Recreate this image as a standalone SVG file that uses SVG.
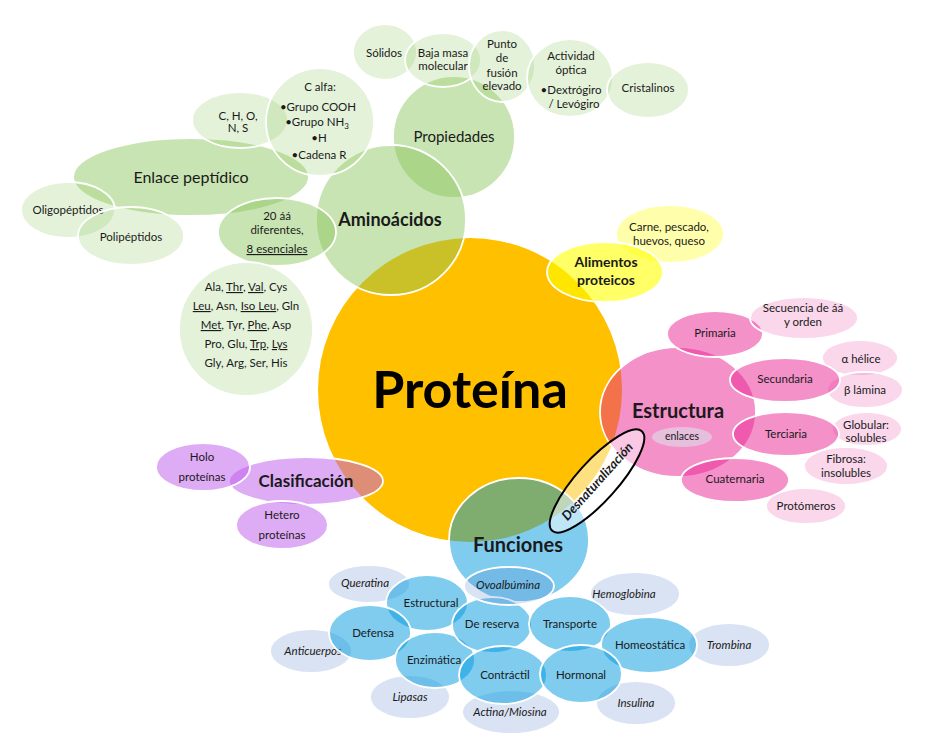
<svg xmlns="http://www.w3.org/2000/svg" width="928" height="740" viewBox="0 0 928 740">
<style>
ellipse,circle{stroke:#fff;stroke-width:1.8}
.o{fill:#FFC000;stroke:none}
.g1{fill:#87C457;fill-opacity:.45}
.g2{fill:#87C457;fill-opacity:.22}
.y1{fill:#FFFF00;fill-opacity:.6}
.y2{fill:#FFFF00;fill-opacity:.33}
.p1{fill:#E92393;fill-opacity:.5}
.p2{fill:#E92393;fill-opacity:.18}
.v1{fill:#BE5AEB;fill-opacity:.5}
.b1{fill:#0099E0;fill-opacity:.5}
.b2{fill:#4472C4;fill-opacity:.2}
.en{fill:#E6BFDC;stroke:none}
.dn{fill:#fff;fill-opacity:.5;stroke:#000;stroke-width:2}
text{font-family:Lato,"Liberation Sans",sans-serif;fill:#1a1a1a;text-anchor:middle;font-size:11.5px}
.m{font-size:15px}
.b{font-weight:bold}
.i{font-style:italic}
.u{text-decoration:underline}
</style>
<g id="proteina"><circle class="o" cx="470" cy="390" r="152"/><text x="470" y="408" class="b" style="font-size:52px;fill:#000">Proteína</text></g>

<g id="propiedades"><circle class="g1" cx="454" cy="137" r="61"/><text x="454" y="142" class="m">Propiedades</text></g>
<g id="aminoacidos"><circle class="g1" cx="391" cy="220" r="75"/><text x="390" y="226" class="b" style="font-size:18px">Aminoácidos</text></g>
<g id="enlace"><ellipse class="g1" cx="191" cy="177" rx="118" ry="39"/><text x="191" y="183" style="font-size:16px">Enlace peptídico</text></g>
<g id="choNS"><ellipse class="g2" cx="240" cy="120" rx="48" ry="28"/><text x="238" y="120">C, H, O,</text><text x="238" y="132">N, S</text></g>
<g id="calfa"><circle class="g2" cx="320" cy="122" r="54"/>
<text x="320" y="91">C alfa:</text>
<text x="318" y="111">•Grupo COOH</text>
<text x="317" y="126">•Grupo NH<tspan dy="3" style="font-size:8px">3</tspan></text>
<text x="319" y="142">•H</text>
<text x="319" y="159">•Cadena R</text></g>
<g id="oligo"><ellipse class="g2" cx="68" cy="210" rx="47" ry="28"/><text x="68" y="214">Oligopéptidos</text></g>
<g id="poli"><ellipse class="g2" cx="131" cy="236" rx="53" ry="29"/><text x="131" y="241">Polipéptidos</text></g>
<g id="veinte"><ellipse class="g1" cx="277" cy="232" rx="59" ry="34"/><text x="277" y="220">20 áá</text><text x="277" y="234">diferentes,</text><text x="277" y="253" class="u">8 esenciales</text></g>
<g id="lista"><circle class="g2" cx="246" cy="329" r="67"/>
<text x="246" y="291">Ala, <tspan class="u">Thr</tspan>, <tspan class="u">Val</tspan>, Cys</text>
<text x="246" y="310"><tspan class="u">Leu</tspan>, Asn, <tspan class="u">Iso Leu</tspan>, Gln</text>
<text x="246" y="329"><tspan class="u">Met</tspan>, Tyr, <tspan class="u">Phe</tspan>, Asp</text>
<text x="246" y="348">Pro, Glu, <tspan class="u">Trp</tspan>, <tspan class="u">Lys</tspan></text>
<text x="246" y="367">Gly, Arg, Ser, His</text></g>
<g id="solidos"><ellipse class="g2" cx="385" cy="52" rx="32" ry="28"/><text x="384" y="57">Sólidos</text></g>
<g id="baja"><ellipse class="g2" cx="443" cy="60" rx="38" ry="27"/><text x="443" y="57">Baja masa</text><text x="443" y="70">molecular</text></g>
<g id="punto"><ellipse class="g2" cx="502" cy="66" rx="33" ry="36"/><text x="502" y="48">Punto</text><text x="502" y="62">de</text><text x="502" y="77">fusión</text><text x="502" y="90">elevado</text></g>
<g id="actividad"><ellipse class="g2" cx="570" cy="78" rx="43" ry="39"/><text x="571" y="60">Actividad</text><text x="571" y="74">óptica</text><text x="571" y="94">•Dextrógiro</text><text x="574" y="108">/ Levógiro</text></g>
<g id="cristalinos"><ellipse class="g2" cx="648" cy="90" rx="41" ry="28"/><text x="648" y="92">Cristalinos</text></g>

<g id="carne"><ellipse class="y2" cx="670" cy="234" rx="54" ry="29"/><text x="669" y="231">Carne, pescado,</text><text x="669" y="245">huevos, queso</text></g>
<g id="alimentos"><ellipse class="y1" cx="605" cy="272" rx="58" ry="30"/><text x="606" y="267" class="b" style="font-size:14px">Alimentos</text><text x="606" y="285" class="b" style="font-size:14px">proteicos</text></g>

<g id="estructura"><ellipse class="p1" cx="678" cy="412" rx="78" ry="65"/><text x="678" y="418" class="b" style="font-size:20px">Estructura</text></g>
<g id="enlaces"><ellipse class="en" cx="682" cy="437" rx="30" ry="10"/><text x="682" y="440" style="font-size:10.5px">enlaces</text></g>
<g id="primaria"><ellipse class="p1" cx="715" cy="334" rx="48" ry="23"/><text x="715" y="337">Primaria</text></g>
<g id="secuencia"><ellipse class="p2" cx="804" cy="318" rx="54" ry="21"/><text x="803" y="312">Secuencia de áá</text><text x="803" y="326">y orden</text></g>
<g id="helice"><ellipse class="p2" cx="860" cy="358" rx="38" ry="18"/><text x="861" y="363">α hélice</text></g>
<g id="lamina"><ellipse class="p2" cx="865" cy="390" rx="38" ry="18"/><text x="865" y="394">β lámina</text></g>
<g id="secundaria"><ellipse class="p1" cx="785" cy="380" rx="55" ry="22"/><text x="785" y="383">Secundaria</text></g>
<g id="globular"><ellipse class="p2" cx="867" cy="429" rx="35" ry="17"/><text x="866" y="429">Globular:</text><text x="866" y="442">solubles</text></g>
<g id="terciaria"><ellipse class="p1" cx="786" cy="434" rx="53" ry="22"/><text x="786" y="438">Terciaria</text></g>
<g id="fibrosa"><ellipse class="p2" cx="846" cy="466" rx="42" ry="19"/><text x="846" y="463">Fibrosa:</text><text x="846" y="477">insolubles</text></g>
<g id="cuaternaria"><ellipse class="p1" cx="735" cy="480" rx="54" ry="22"/><text x="735" y="483">Cuaternaria</text></g>
<g id="protomeros"><ellipse class="p2" cx="806" cy="506" rx="40" ry="18"/><text x="806" y="510">Protómeros</text></g>

<g id="clasificacion"><ellipse class="v1" cx="306" cy="481" rx="77" ry="24"/><text x="306" y="487" class="b" style="font-size:17px">Clasificación</text></g>
<g id="holo"><ellipse class="v1" cx="203" cy="467" rx="47" ry="24"/><text x="202" y="461">Holo</text><text x="202" y="481">proteínas</text></g>
<g id="hetero"><ellipse class="v1" cx="282" cy="525" rx="46" ry="24"/><text x="282" y="519">Hetero</text><text x="282" y="539">proteínas</text></g>

<g id="funciones"><ellipse class="b1" cx="519" cy="540" rx="70" ry="62"/><text x="518" y="552" class="b" style="font-size:20px">Funciones</text></g>
<g id="queratina"><ellipse class="b2" cx="369" cy="584" rx="41" ry="19"/><text x="365" y="587" class="i">Queratina</text></g>
<g id="anticuerpos"><ellipse class="b2" cx="311" cy="651" rx="41" ry="22"/><text x="313" y="655" class="i">Anticuerpos</text></g>
<g id="lipasas"><ellipse class="b2" cx="410" cy="697" rx="40" ry="22"/><text x="410" y="701" class="i">Lipasas</text></g>
<g id="actina"><ellipse class="b2" cx="511" cy="712" rx="49" ry="22"/><text x="510" y="716" class="i">Actina/Miosina</text></g>
<g id="insulina"><ellipse class="b2" cx="636" cy="703" rx="40" ry="22"/><text x="636" y="707" class="i">Insulina</text></g>
<g id="trombina"><ellipse class="b2" cx="729" cy="645" rx="41" ry="22"/><text x="729" y="649" class="i">Trombina</text></g>
<g id="hemoglobina"><ellipse class="b2" cx="635" cy="594" rx="45" ry="22"/><text x="624" y="598" class="i">Hemoglobina</text></g>
<g id="estructural"><ellipse class="b1" cx="427" cy="603" rx="41" ry="28"/><text x="431" y="607">Estructural</text></g>
<g id="defensa"><ellipse class="b1" cx="370" cy="633" rx="41" ry="28"/><text x="373" y="637">Defensa</text></g>
<g id="enzimatica"><ellipse class="b1" cx="435" cy="660" rx="40" ry="28"/><text x="434" y="664">Enzimática</text></g>
<g id="reserva"><ellipse class="b1" cx="492" cy="625" rx="40" ry="28"/><text x="492" y="628">De reserva</text></g>
<g id="transporte"><ellipse class="b1" cx="570" cy="624" rx="41" ry="28"/><text x="570" y="628">Transporte</text></g>
<g id="homeostatica"><ellipse class="b1" cx="649" cy="645" rx="48" ry="28"/><text x="650" y="649">Homeostática</text></g>
<g id="contractil"><ellipse class="b1" cx="503" cy="675" rx="44" ry="29"/><text x="505" y="679">Contráctil</text></g>
<g id="hormonal"><ellipse class="b1" cx="581" cy="674" rx="41" ry="29"/><text x="581" y="679">Hormonal</text></g>
<g id="ovoalbumina"><ellipse class="b2" cx="509" cy="586" rx="45" ry="19"/><text x="508" y="589" class="i">Ovoalbúmina</text></g>

<g id="desnaturalizacion"><ellipse class="dn" cx="597" cy="481" rx="67" ry="20" transform="rotate(-48 597 481)"/><text x="597" y="486" class="b i" style="font-size:13px" transform="rotate(-48 597 481)">Desnaturalización</text></g>
<g id="connectors"></g>
</svg>
